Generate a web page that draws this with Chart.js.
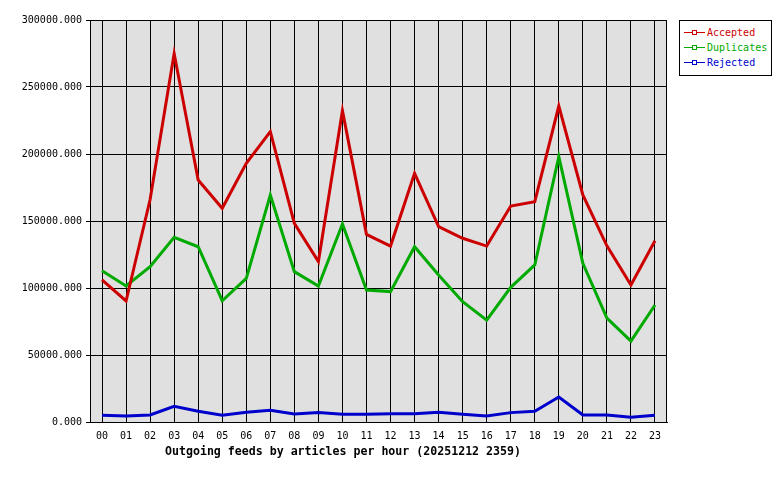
<!DOCTYPE html>
<html>
<head>
<meta charset="utf-8">
<script src="https://cdn.jsdelivr.net/npm/chart.js@4.4.1/dist/chart.umd.min.js"></script>
<style>
  body { margin: 0; background: #fff; }
  #wrap { position: relative; width: 780px; height: 480px; }
  #legend {
    position: absolute; left: 679px; top: 20px; width: 91px; height: 54px;
    border: 1px solid #000; background: #fff;
    font: 10px "DejaVu Sans Mono", monospace;
  }
  .item { position: absolute; left: 4px; height: 12px; line-height: 12px; }
  .item .ln { position: absolute; left: 0; top: 5px; width: 21px; height: 1px; }
  .item .mk { position: absolute; left: 8px; top: 3px; width: 3px; height: 3px; border: 1px solid; background: #fff; }
  .item span { position: absolute; left: 23px; white-space: nowrap; }
</style>
</head>
<body>
<div id="wrap">
  <canvas id="chart" width="780" height="480"></canvas>
  <div id="legend"></div>
</div>
<script>
const hours = ['00','01','02','03','04','05','06','07','08','09','10','11','12','13','14','15','16','17','18','19','20','21','22','23'];
const accepted = [106000, 90300, 166000, 275000, 180600, 159500, 193000, 216700, 148300, 119700, 232300, 140000,
                  131300, 185600, 145800, 137100, 131300, 161200, 164400, 235800, 169400, 131500, 102200, 135300];
const duplicates = [112900, 101500, 115900, 137800, 130800, 90500, 107200, 169400, 112200, 101500, 147800, 98500,
                    97300, 130800, 109700, 89800, 76000, 100500, 117200, 198000, 118400, 77600, 60400, 87300];
const rejected = [5000, 4500, 5200, 11700, 8000, 5000, 7200, 8700, 6000, 7000, 5700, 5700,
                  6200, 6200, 7200, 5700, 4500, 7000, 8000, 18700, 5200, 5200, 3500, 5000];
const seriesNames = ['Accepted', 'Duplicates', 'Rejected'];
const seriesColors = ['#cc0000', '#00aa00', '#0000cc'];
const titleText = 'Outgoing feeds by articles per hour (20251212 2359)';

const monoFont = { family: '"DejaVu Sans Mono", monospace', size: 10 };

// gray plot background, frame and bottom title
const plotDeco = {
  id: 'plotDeco',
  beforeDraw(chart) {
    const { ctx, chartArea: a } = chart;
    ctx.save();
    ctx.fillStyle = '#e0e0e0';
    ctx.fillRect(a.left, a.top, a.right - a.left, a.bottom - a.top);
    ctx.restore();
  },
  beforeDatasetsDraw(chart) {
    const { ctx, chartArea: a } = chart;
    ctx.save();
    ctx.strokeStyle = '#000';
    ctx.lineWidth = 1;
    ctx.strokeRect(a.left + 0.5, a.top + 0.5, a.right - a.left - 1, a.bottom - a.top);
    ctx.restore();
  },
  afterDraw(chart) {
    const { ctx } = chart;
    ctx.save();
    ctx.fillStyle = '#000';
    ctx.font = 'bold 11.6px "DejaVu Sans Mono", monospace';
    ctx.textBaseline = 'middle';
    ctx.textAlign = 'left';
    ctx.fillText(titleText, 165, 452);
    ctx.restore();
  }
};

const datasets = [accepted, duplicates, rejected].map((d, i) => ({
  label: seriesNames[i],
  data: d,
  borderColor: seriesColors[i],
  backgroundColor: seriesColors[i],
  borderWidth: 3,
  pointRadius: 0,
  tension: 0,
  fill: false
}));

const chart = new Chart(document.getElementById('chart'), {
  type: 'line',
  data: { labels: hours, datasets: datasets },
  options: {
    responsive: false,
    animation: false,
    layout: { padding: { left: 0, top: 20, right: 113, bottom: 0 } },
    plugins: { legend: { display: false }, tooltip: { enabled: false } },
    scales: {
      x: {
        offset: true,
        grid: { offset: false, color: '#000', drawTicks: false, lineWidth: 1 },
        border: { color: '#000' },
        ticks: { color: '#000', font: monoFont, padding: 8, maxRotation: 0, autoSkip: false },
        afterFit: (s) => { s.height = 58; }
      },
      y: {
        min: 0,
        max: 300000,
        grid: { color: '#000', tickLength: 4, lineWidth: 1 },
        border: { color: '#000' },
        ticks: {
          stepSize: 50000,
          color: '#000',
          font: monoFont,
          padding: 4,
          callback: (v) => Number(v).toFixed(3)
        },
        afterFit: (s) => { s.width = 90; }
      }
    }
  },
  plugins: [plotDeco]
});

// legend box
const legend = document.getElementById('legend');
seriesNames.forEach((name, i) => {
  const item = document.createElement('div');
  item.className = 'item';
  item.style.top = (6 + i * 15) + 'px';
  item.innerHTML = '<div class="ln" style="background:' + seriesColors[i] + '"></div>' +
    '<div class="mk" style="border-color:' + seriesColors[i] + '"></div>' +
    '<span style="color:' + seriesColors[i] + '">' + name + '</span>';
  legend.appendChild(item);
});
</script>
</body>
</html>
